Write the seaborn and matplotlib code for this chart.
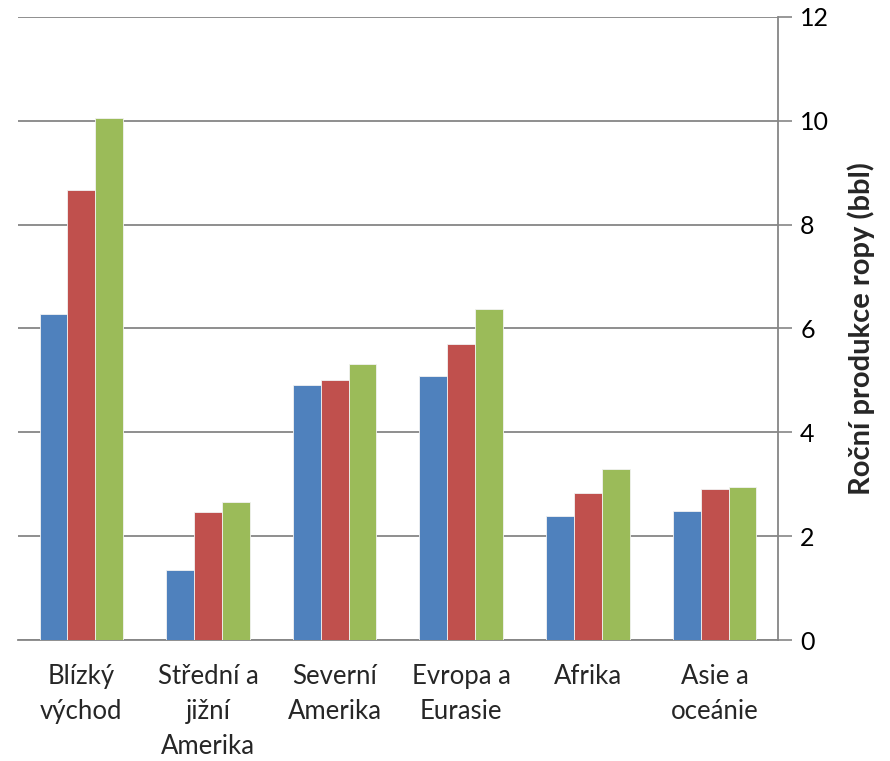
import matplotlib
matplotlib.use("Agg")
import matplotlib.pyplot as plt
import seaborn as sns
import pandas as pd

regions = ["Blízký\nvýchod", "Střední a\njižní\nAmerika", "Severní\nAmerika",
           "Evropa a\nEurasie", "Afrika", "Asie a\noceánie"]
series = ["Řada 1", "Řada 2", "Řada 3"]
values_1 = [6.28, 1.35, 4.91, 5.09, 2.39, 2.48]
values_2 = [8.67, 2.47, 5.01, 5.70, 2.83, 2.90]
values_3 = [10.06, 2.66, 5.32, 6.38, 3.30, 2.95]
colors = ["#4F81BD", "#C0504D", "#9BBB59"]
y_ticks = [0, 2, 4, 6, 8, 10, 12]
y_label = "Roční produkce ropy (bbl)"

df = pd.DataFrame({
    "region": regions * 3,
    "series": [s for s in series for _ in regions],
    "value": values_1 + values_2 + values_3,
})

sns.set_style("white")
plt.rcParams["font.family"] = ["Lato", "DejaVu Sans"]

fig = plt.figure(figsize=(8.9, 7.61), dpi=100)
ax = fig.add_axes([0.0202, 0.159, 0.8539, 0.8188])

sns.barplot(data=df, x="region", y="value", hue="series", order=regions,
            hue_order=series, palette=colors, saturation=1, width=0.66,
            legend=False, edgecolor="#f2f2f2", linewidth=0.6, ax=ax, zorder=3)

ax.set_ylim(0, 12)
ax.set_xlim(-0.5, len(regions) - 0.5)
ax.set_yticks(y_ticks)
ax.yaxis.tick_right()
ax.yaxis.set_label_position("right")
ax.tick_params(axis="y", which="major", direction="out", length=10, width=1.2,
               color="#868686", labelsize=18, pad=6, labelcolor="#000000")
ax.grid(axis="y", color="#868686", linewidth=1.3, zorder=0)
ax.set_axisbelow(True)

# category ticks sit at group boundaries
ax.set_xticks([i - 0.5 for i in range(len(regions) + 1)], minor=False)
ax.set_xticklabels([])
ax.set_xticks(range(len(regions)), minor=True)
ax.set_xticklabels(regions, minor=True, fontsize=18.5, linespacing=1.5, va="top")
ax.tick_params(axis="x", which="major", direction="out", length=8, width=1.2,
               color="#868686")
ax.tick_params(axis="x", which="minor", length=0, pad=17)

for side in ["left", "top"]:
    ax.spines[side].set_visible(False)
for side in ["bottom", "right"]:
    ax.spines[side].set_color("#868686")
    ax.spines[side].set_linewidth(1.3)

ax.set_xlabel("")
ax.set_ylabel(y_label, fontsize=21, fontweight="bold", labelpad=13, rotation=90)

fig.savefig("out.png", dpi=100)
